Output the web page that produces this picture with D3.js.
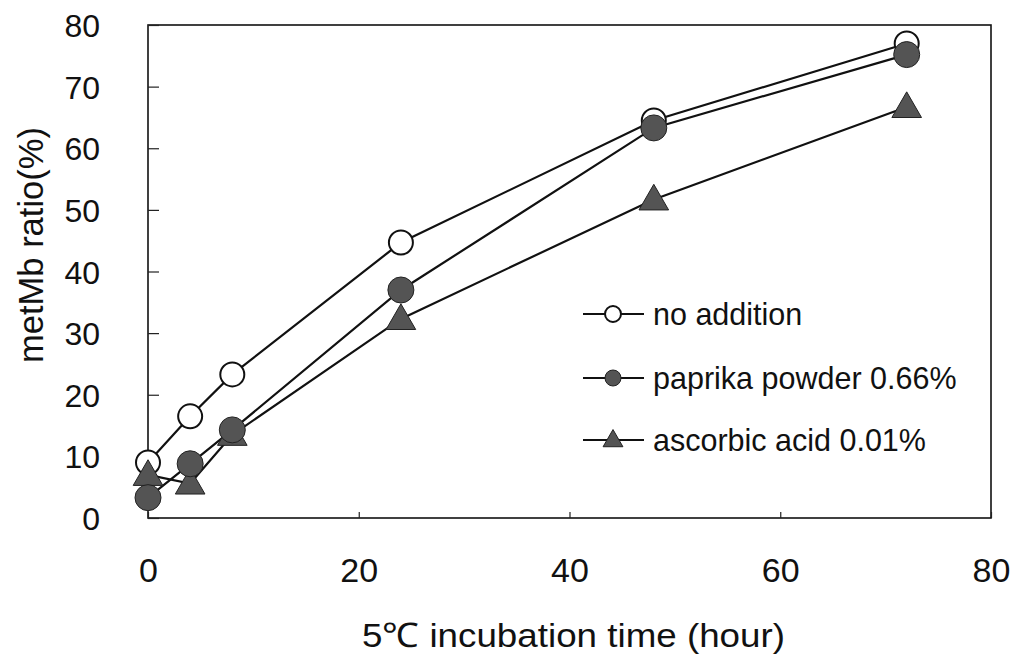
<!DOCTYPE html>
<html><head><meta charset="utf-8">
<script src="https://cdn.jsdelivr.net/npm/d3@7"></script>
<style>body{margin:0;background:#fff}svg{display:block}text{font-family:"Liberation Sans",Arial,sans-serif;fill:#111}</style>
</head><body>
<svg id="c" width="1017" height="657"></svg>
<script>
const hours = [0, 4, 8, 24, 48, 72];
const noAddition = [9, 16.5, 23.3, 44.7, 64.5, 77];
const paprika = [3.3, 8.8, 14.3, 37, 63.3, 75.2];
const ascorbic = [7, 5.6, 13.5, 32.3, 51.7, 66.7];
const seriesNames = ["no addition", "paprika powder 0.66%", "ascorbic acid 0.01%"];
const xTicks = [0, 20, 40, 60, 80];
const yTicks = [0, 10, 20, 30, 40, 50, 60, 70, 80];

const svg = d3.select("#c");
const x = d3.scaleLinear().domain([0, 80]).range([148, 991]);
const y = d3.scaleLinear().domain([0, 80]).range([518, 25]);
const L = x.range()[0], R = x.range()[1], T = y.range()[1], B = y.range()[0];

// frame
svg.append("rect").attr("x", L).attr("y", T).attr("width", R - L).attr("height", B - T)
  .attr("fill", "none").attr("stroke", "#111").attr("stroke-width", 1.6);

// y axis
const ya = svg.append("g").attr("transform", `translate(${L},0)`)
  .call(d3.axisLeft(y).tickValues(yTicks).tickSizeInner(-11).tickSizeOuter(0).tickPadding(48));
ya.select(".domain").remove();
ya.selectAll("line").attr("stroke", "#222").attr("stroke-width", 1.2);
ya.selectAll("text").attr("font-size", 32).attr("fill", "#111").attr("dy", "0.36em");

// x axis
const xa = svg.append("g").attr("transform", `translate(0,${B})`)
  .call(d3.axisBottom(x).tickValues(xTicks).tickSizeInner(-6).tickSizeOuter(0).tickPadding(40));
xa.select(".domain").remove();
xa.selectAll("line").attr("stroke", "#222").attr("stroke-width", 1.2);
xa.selectAll("text").attr("font-size", 34).attr("fill", "#111");

// axis titles
svg.append("text").attr("transform", `translate(43,${245}) rotate(-90)`)
  .attr("text-anchor", "middle").attr("font-size", 34.5).text("metMb ratio(%)");
svg.append("text").attr("x", 362).attr("y", 647)
  .attr("font-size", 34).attr("textLength", 423).attr("lengthAdjust", "spacingAndGlyphs")
  .text("5\u2103 incubation time (hour)");

const line = d3.line().x(d => x(d[0])).y(d => y(d[1]));
const fillGray = "#545454";
const tri = (s) => d3.symbol().type(d3.symbolTriangle).size(s);

const data = [noAddition, paprika, ascorbic].map(v => hours.map((h, i) => [h, v[i]]));

// lines
data.forEach(d => svg.append("path").datum(d).attr("d", line)
  .attr("fill", "none").attr("stroke", "#111").attr("stroke-width", 2.2));

// markers: open circles, then triangles, then filled circles (match overlap)
svg.selectAll(".m0").data(data[0]).join("circle").attr("cx", d => x(d[0])).attr("cy", d => y(d[1]))
  .attr("r", 12).attr("fill", "#fff").attr("stroke", "#111").attr("stroke-width", 2);
svg.selectAll(".m2").data(data[2]).join("path").attr("d", tri(380))
  .attr("transform", d => `translate(${x(d[0])},${y(d[1]) + 2})`)
  .attr("fill", fillGray).attr("stroke", "#222").attr("stroke-width", 1);
svg.selectAll(".m1").data(data[1]).join("circle").attr("cx", d => x(d[0])).attr("cy", d => y(d[1]))
  .attr("r", 13).attr("fill", fillGray).attr("stroke", "#222").attr("stroke-width", 1);

// legend
const legY = [314, 378, 440];
const lg = svg.append("g");
seriesNames.forEach((name, i) => {
  const g = lg.append("g").attr("transform", `translate(0,${legY[i]})`);
  g.append("line").attr("x1", 583).attr("x2", 644).attr("y1", 0).attr("y2", 0)
    .attr("stroke", "#111").attr("stroke-width", 2);
  if (i === 0) g.append("circle").attr("cx", 613).attr("cy", 0).attr("r", 8)
    .attr("fill", "#fff").attr("stroke", "#111").attr("stroke-width", 2);
  if (i === 1) g.append("circle").attr("cx", 613).attr("cy", 0).attr("r", 8)
    .attr("fill", fillGray).attr("stroke", "#222").attr("stroke-width", 1);
  if (i === 2) g.append("path").attr("d", tri(170)).attr("transform", "translate(613,1)")
    .attr("fill", fillGray).attr("stroke", "#222").attr("stroke-width", 1);
  g.append("text").attr("x", 653).attr("y", 0).attr("dy", "0.36em")
    .attr("font-size", 30.5).text(name);
});
</script>
</body></html>
